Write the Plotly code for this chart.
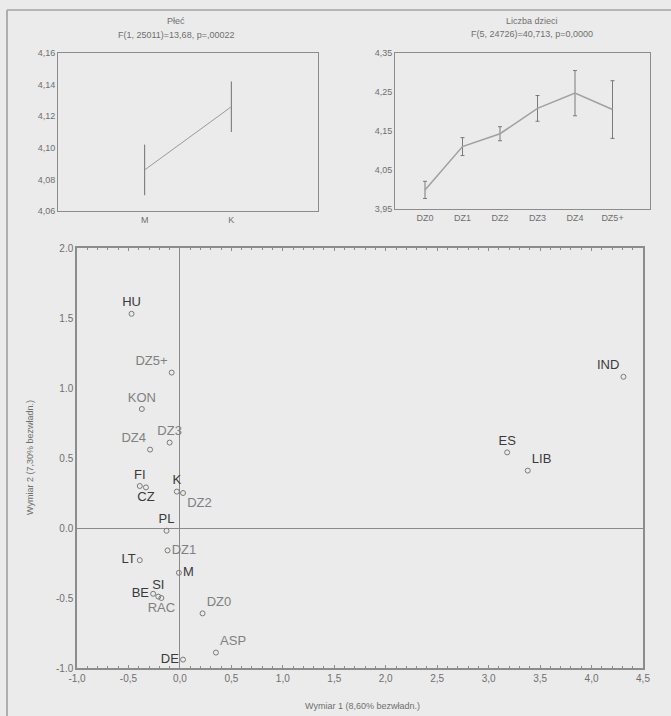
import plotly.graph_objects as go

W, H = 671, 716

# ---- data: top-left panel (Płeć) ----
sex_cats = ["M", "K"]
sex_mean = [4.086, 4.126]
sex_err = [0.016, 0.016]
sex_yticks = [4.06, 4.08, 4.10, 4.12, 4.14, 4.16]
sex_yticktext = ["4,06", "4,08", "4,10", "4,12", "4,14", "4,16"]

# ---- data: top-right panel (Liczba dzieci) ----
kids_cats = ["DZ0", "DZ1", "DZ2", "DZ3", "DZ4", "DZ5+"]
kids_mean = [3.999, 4.110, 4.143, 4.208, 4.247, 4.205]
kids_err = [0.022, 0.023, 0.018, 0.033, 0.058, 0.074]
kids_yticks = [3.95, 4.05, 4.15, 4.25, 4.35]
kids_yticktext = ["3,95", "4,05", "4,15", "4,25", "4,35"]

# ---- data: correspondence map ----
pt_labels = ["HU", "DZ5+", "KON", "DZ3", "DZ4", "FI", "CZ", "K", "DZ2", "PL",
             "DZ1", "LT", "M", "SI", "BE", "RAC", "DZ0", "ASP", "DE",
             "IND", "ES", "LIB"]
pt_x = [-0.47, -0.08, -0.37, -0.10, -0.29, -0.39, -0.33, -0.03, 0.03, -0.13,
        -0.12, -0.39, -0.01, -0.21, -0.26, -0.18, 0.22, 0.35, 0.03,
        4.31, 3.18, 3.38]
pt_y = [1.53, 1.11, 0.85, 0.61, 0.56, 0.30, 0.29, 0.26, 0.25, -0.02,
        -0.16, -0.23, -0.32, -0.49, -0.47, -0.50, -0.61, -0.89, -0.94,
        1.08, 0.54, 0.41]
pt_pos = ["top center", "top left", "top center", "top center", "top left",
          "top center", "bottom center", "top center", "bottom right", "top center",
          "middle right", "middle left", "middle right", "top center", "middle left",
          "bottom center", "top right", "top right", "middle left",
          "top left", "top center", "top right"]
pt_dark = [True, False, False, False, False, True, True, True, False, True,
           False, True, True, True, True, False, False, False, True,
           True, True, True]
map_xticks = [-1.0, -0.5, 0.0, 0.5, 1.0, 1.5, 2.0, 2.5, 3.0, 3.5, 4.0, 4.5]
map_xticktext = ["-1,0", "-0,5", "0,0", "0,5", "1,0", "1,5", "2,0", "2,5",
                 "3,0", "3,5", "4,0", "4,5"]
map_yticks = [-1.0, -0.5, 0.0, 0.5, 1.0, 1.5, 2.0]
map_yticktext = ["-1.0", "-0.5", "0.0", "0.5", "1.0", "1.5", "2.0"]

BG = "#ebebeb"
LINE = "#8c8c8c"
TXT = "#6f6f6f"
FONT = "Liberation Sans, Arial, sans-serif"


def px_x(p):
    return p / W


def px_y(p):
    return 1 - p / H


fig = go.Figure()

# top-left
fig.add_trace(go.Scatter(
    x=sex_cats, y=sex_mean, mode="lines",
    line=dict(color="#9a9a9a", width=1),
    error_y=dict(type="data", array=sex_err, color="#707070", thickness=1, width=0),
    xaxis="x", yaxis="y", showlegend=False, hoverinfo="skip"))

# top-right
fig.add_trace(go.Scatter(
    x=kids_cats, y=kids_mean, mode="lines",
    line=dict(color="#a0a0a0", width=1.5),
    error_y=dict(type="data", array=kids_err, color="#7a7a7a", thickness=1, width=2),
    xaxis="x2", yaxis="y2", showlegend=False, hoverinfo="skip"))

# correspondence map
colors = ["#3a3a3a" if d else "#808080" for d in pt_dark]
fig.add_trace(go.Scatter(
    x=pt_x, y=pt_y, mode="markers+text", text=pt_labels,
    textposition=pt_pos,
    textfont=dict(family=FONT, size=13, color=colors),
    marker=dict(symbol="circle-open", size=5, color="#7a7a7a", line=dict(width=1)),
    xaxis="x3", yaxis="y3", showlegend=False, hoverinfo="skip"))

tickfont = dict(family=FONT, size=9, color=TXT)
common_ax = dict(showline=True, linecolor=LINE, linewidth=1, mirror=True,
                 showgrid=False, zeroline=False, tickfont=tickfont, automargin=False)

fig.update_layout(
    width=W, height=H, autosize=False,
    margin=dict(l=0, r=0, t=0, b=0, pad=0, autoexpand=False),
    paper_bgcolor=BG, plot_bgcolor=BG,
    font=dict(family=FONT, color=TXT),
    xaxis=dict(domain=[px_x(58), px_x(318)], anchor="y", type="category",
               range=[-1, 2], ticks="", **common_ax),
    yaxis=dict(domain=[px_y(211), px_y(53)], anchor="x", range=[4.06, 4.16],
               tickvals=sex_yticks, ticktext=sex_yticktext, ticks="",
               **common_ax),
    xaxis2=dict(domain=[px_x(395), px_x(650)], anchor="y2", type="category",
                range=[-0.8, 6.0], ticks="", **common_ax),
    yaxis2=dict(domain=[px_y(209), px_y(53)], anchor="x2", range=[3.95, 4.35],
                tickvals=kids_yticks, ticktext=kids_yticktext, ticks="", **common_ax),
    xaxis3=dict(domain=[px_x(77), px_x(643)], anchor="y3", range=[-1.0, 4.5],
                tickvals=map_xticks, ticktext=map_xticktext,
                ticks="inside", ticklen=3, tickcolor=LINE,
                minor=dict(ticks="inside", ticklen=2, dtick=0.1, tick0=0, tickcolor=LINE),
                showline=True, linecolor=LINE, linewidth=1.5, mirror="allticks",
                showgrid=False, zeroline=True, zerolinecolor="#8a8a8a", zerolinewidth=1,
                automargin=False,
                tickfont=dict(family=FONT, size=10, color=TXT)),
    yaxis3=dict(domain=[px_y(668), px_y(248)], anchor="x3", range=[-1.0, 2.0],
                tickvals=map_yticks, ticktext=map_yticktext, ticks="",
                showline=True, linecolor=LINE, linewidth=1.5, mirror=True,
                showgrid=False, zeroline=True, zerolinecolor="#8a8a8a", zerolinewidth=1,
                automargin=False,
                tickfont=dict(family=FONT, size=10, color=TXT)),
)

ann = [
    dict(text="Płeć", x=px_x(176), y=px_y(21)),
    dict(text="F(1, 25011)=13,68, p=,00022", x=px_x(176), y=px_y(35)),
    dict(text="Liczba dzieci", x=px_x(532), y=px_y(21)),
    dict(text="F(5, 24726)=40,713, p=0,0000", x=px_x(532), y=px_y(34)),
    dict(text="Wymiar 1 (8,60% bezwładn.)", x=px_x(362), y=px_y(706)),
]
for a in ann:
    fig.add_annotation(xref="paper", yref="paper", showarrow=False,
                       xanchor="center", yanchor="middle",
                       font=dict(family=FONT, size=9, color=TXT), **a)
fig.add_annotation(xref="paper", yref="paper", showarrow=False,
                   x=px_x(30), y=px_y(458), textangle=-90,
                   xanchor="center", yanchor="middle",
                   text="Wymiar 2 (7,30% bezwładn.)",
                   font=dict(family=FONT, size=9, color=TXT))

# outer frame lines of the scanned page
fig.add_shape(type="line", xref="paper", yref="paper",
              x0=px_x(7), x1=px_x(7), y0=0, y1=px_y(10),
              line=dict(color="#9a9a9a", width=1.5))
fig.add_shape(type="line", xref="paper", yref="paper",
              x0=px_x(7), x1=1, y0=px_y(10), y1=px_y(10),
              line=dict(color="#a5a5a5", width=1.5))

fig.write_html(
    "out.html",
    config={"displayModeBar": False},
    post_script="document.body.style.margin='0';"
                "document.body.style.background='" + BG + "';"
                "document.body.style.overflow='hidden';",
)
